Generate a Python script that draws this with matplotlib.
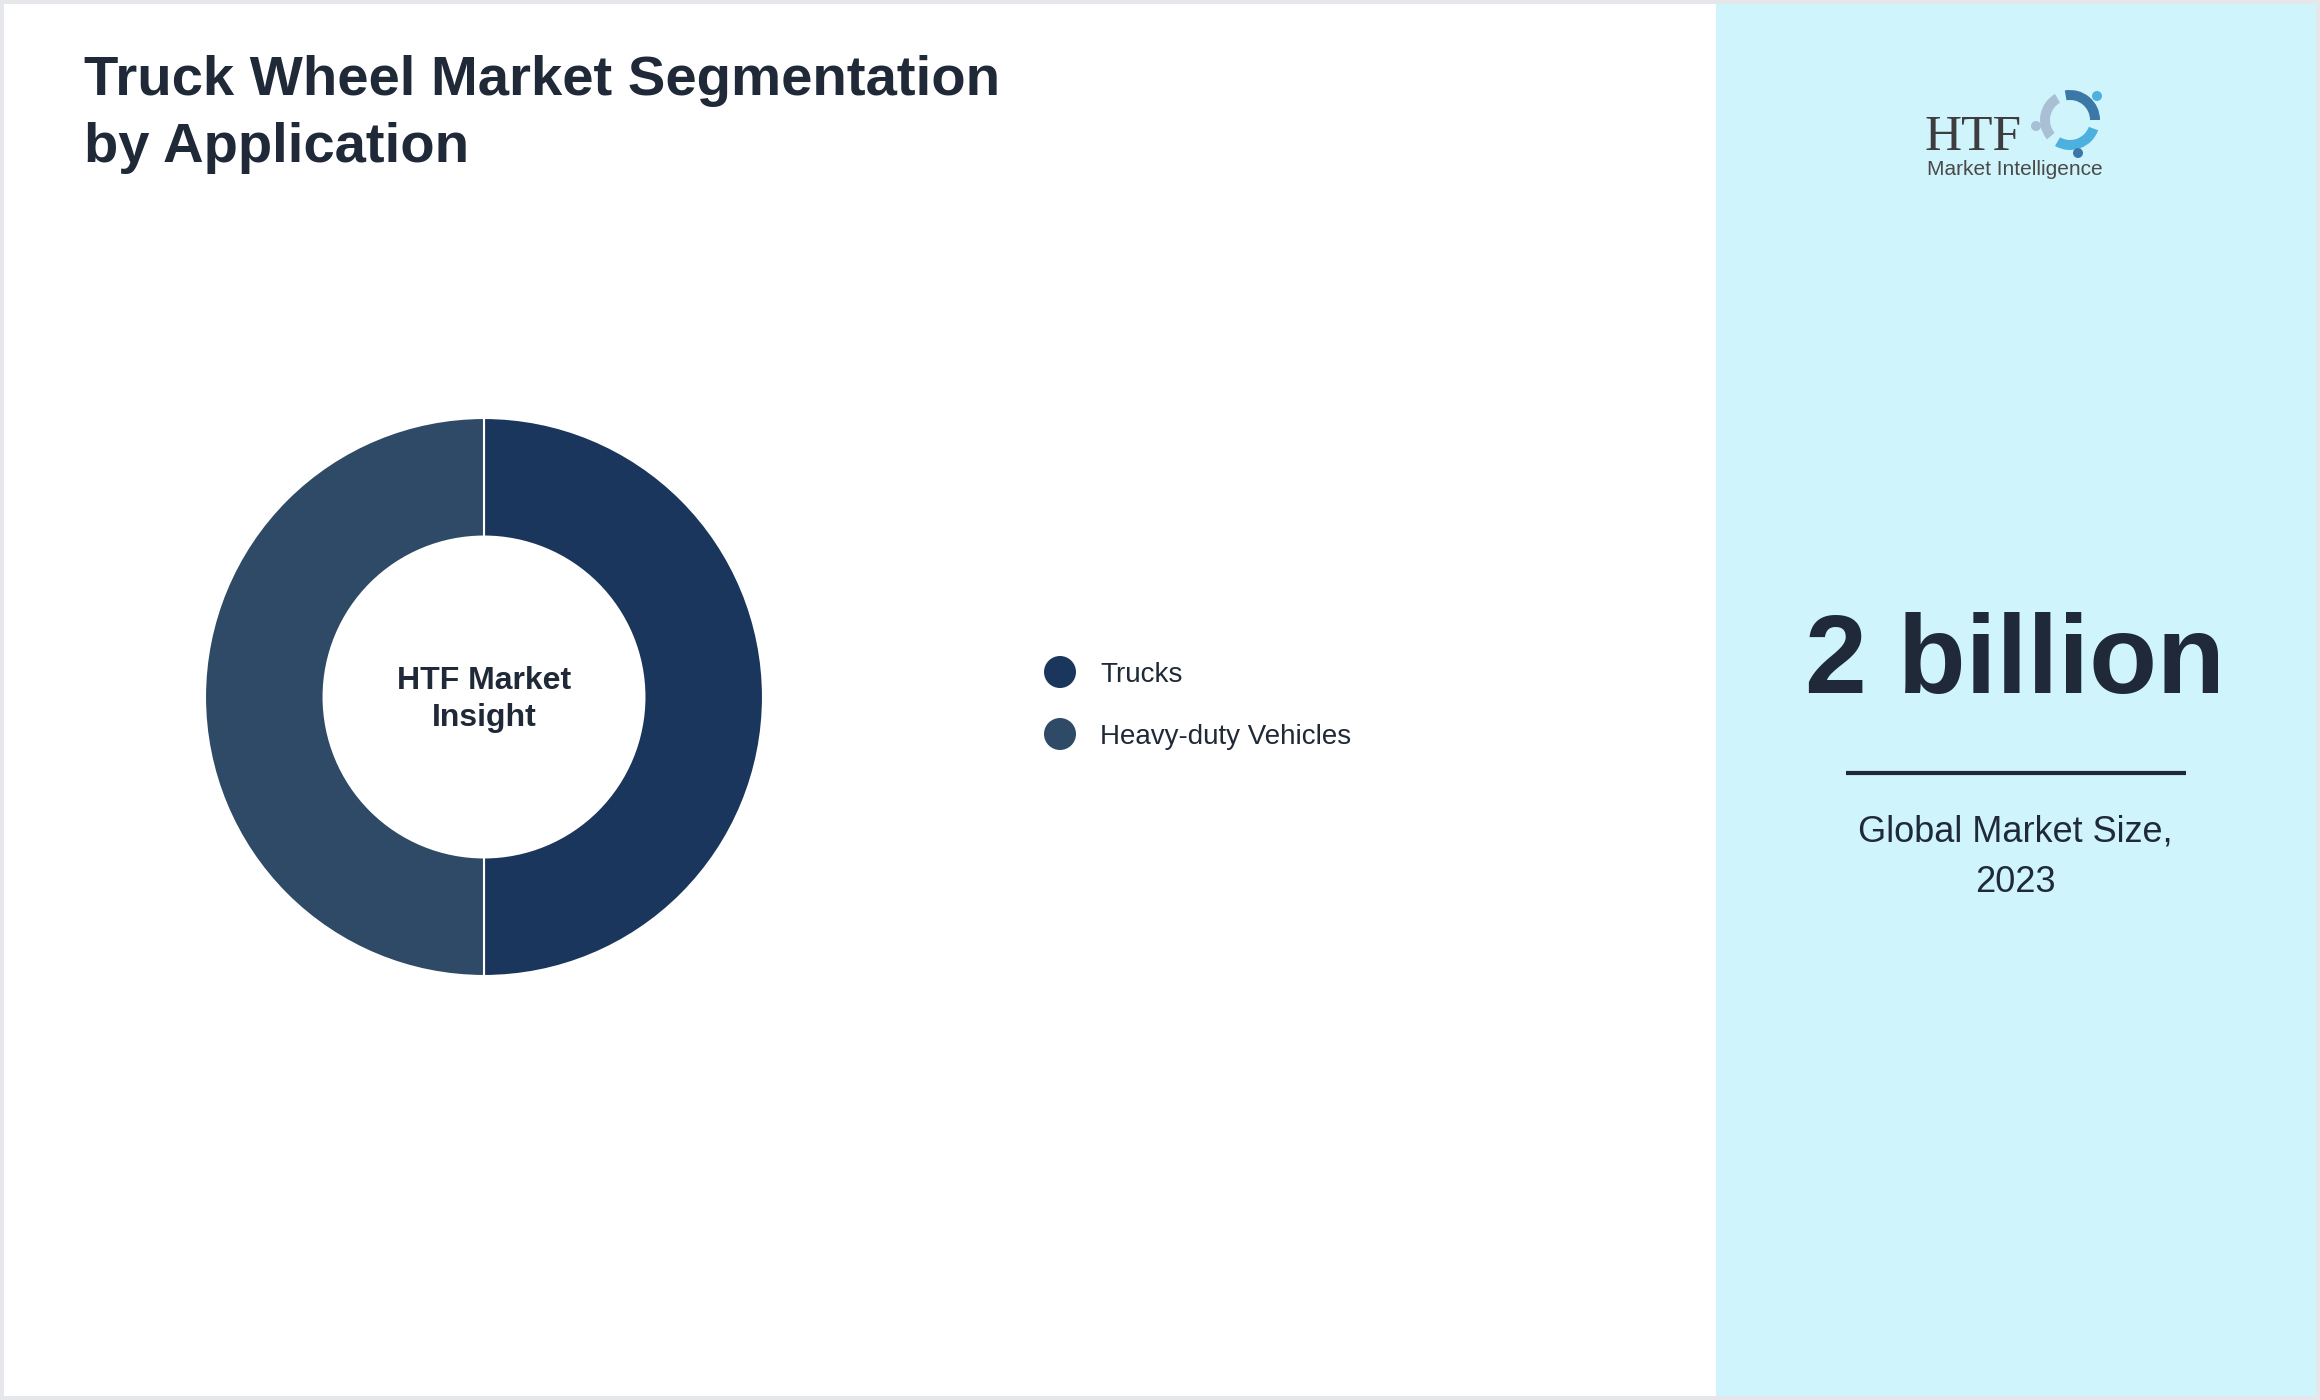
import matplotlib
matplotlib.use("Agg")
import matplotlib.pyplot as plt
from matplotlib.patches import Rectangle, Circle, Wedge

plt.rcParams['font.family'] = ['Liberation Sans', 'DejaVu Sans']

# ---- data ----
title_lines = ["Truck Wheel Market Segmentation", "by Application"]
categories = ["Trucks", "Heavy-duty Vehicles"]
shares = [50, 50]
colors = ["#1b365d", "#2e4a66"]
center_lines = ["HTF Market", "Insight"]
market_value = "2 billion"
market_caption = ["Global Market Size,", "2023"]

W, H = 2320, 1400
TXT = "#1f2937"

fig = plt.figure(figsize=(W / 100, H / 100), dpi=100, facecolor="#e5e7eb")

# background canvas in pixel coords
bg = fig.add_axes([0, 0, 1, 1])
bg.set_xlim(0, W)
bg.set_ylim(H, 0)
bg.axis("off")
bg.add_patch(Rectangle((4, 4), W - 8, H - 8, facecolor="white", edgecolor="none"))
bg.add_patch(Rectangle((1716, 4), W - 4 - 1716, H - 8, facecolor="#cff4fc", edgecolor="none"))

# title
for i, line in enumerate(title_lines):
    bg.text(84, 95 + i * 67, line, fontsize=40.5, fontweight="bold", color=TXT,
            ha="left", va="baseline")

# donut
cx, cy, r = 484, 697, 279
pax = fig.add_axes([(cx - r) / W, (H - cy - r) / H, 2 * r / W, 2 * r / H])
pax.pie(shares, colors=colors, startangle=90, counterclock=False, radius=1,
        wedgeprops=dict(width=0.425, edgecolor="white", linewidth=1.5))
pax.set_xlim(-1, 1)
pax.set_ylim(-1, 1)
pax.set_aspect("equal")
pax.axis("off")

for i, line in enumerate(center_lines):
    bg.text(cx, 689 + i * 37, line, fontsize=23, fontweight="bold", color=TXT,
            ha="center", va="baseline")

# legend
for i, (lab, col) in enumerate(zip(categories, colors)):
    y = 672 + i * 62
    bg.add_patch(Circle((1060, y), 16, facecolor=col, edgecolor="none"))
    bg.text(1100, y + 10, lab, fontsize=20, color=TXT, ha="left", va="baseline")

# right panel
bg.text(2015, 693, market_value, fontsize=80, fontweight="bold", color=TXT,
        ha="center", va="baseline")
bg.plot([1846, 2186], [773, 773], color=TXT, lw=3, solid_capstyle="butt")
for i, line in enumerate(market_caption):
    bg.text(2015, 842 + i * 50, line, fontsize=26, color=TXT, ha="center", va="baseline")

# logo
bg.text(1925, 150, "HTF", fontsize=37, family="Liberation Serif", color="#3d3d3d",
        ha="left", va="baseline")
bg.text(1927, 175, "Market Intelligence", fontsize=15, color="#4a4a4a",
        ha="left", va="baseline")
lx, ly = 2070, 120
bg.add_patch(Wedge((lx, ly), 30, 20, 120, width=10, facecolor="#4cb1de", edgecolor="none"))
bg.add_patch(Wedge((lx, ly), 30, 140, 240, width=10, facecolor="#a8bfd4", edgecolor="none"))
bg.add_patch(Wedge((lx, ly), 30, 260, 360, width=10, facecolor="#3b78a8", edgecolor="none"))
bg.add_patch(Circle((lx + 27, ly - 24), 5, facecolor="#4cb1de", edgecolor="none"))
bg.add_patch(Circle((lx - 34, ly + 6), 5, facecolor="#a8bfd4", edgecolor="none"))
bg.add_patch(Circle((lx + 8, ly + 33), 5, facecolor="#3b78a8", edgecolor="none"))

fig.savefig("out.png", dpi=100, facecolor=fig.get_facecolor())
